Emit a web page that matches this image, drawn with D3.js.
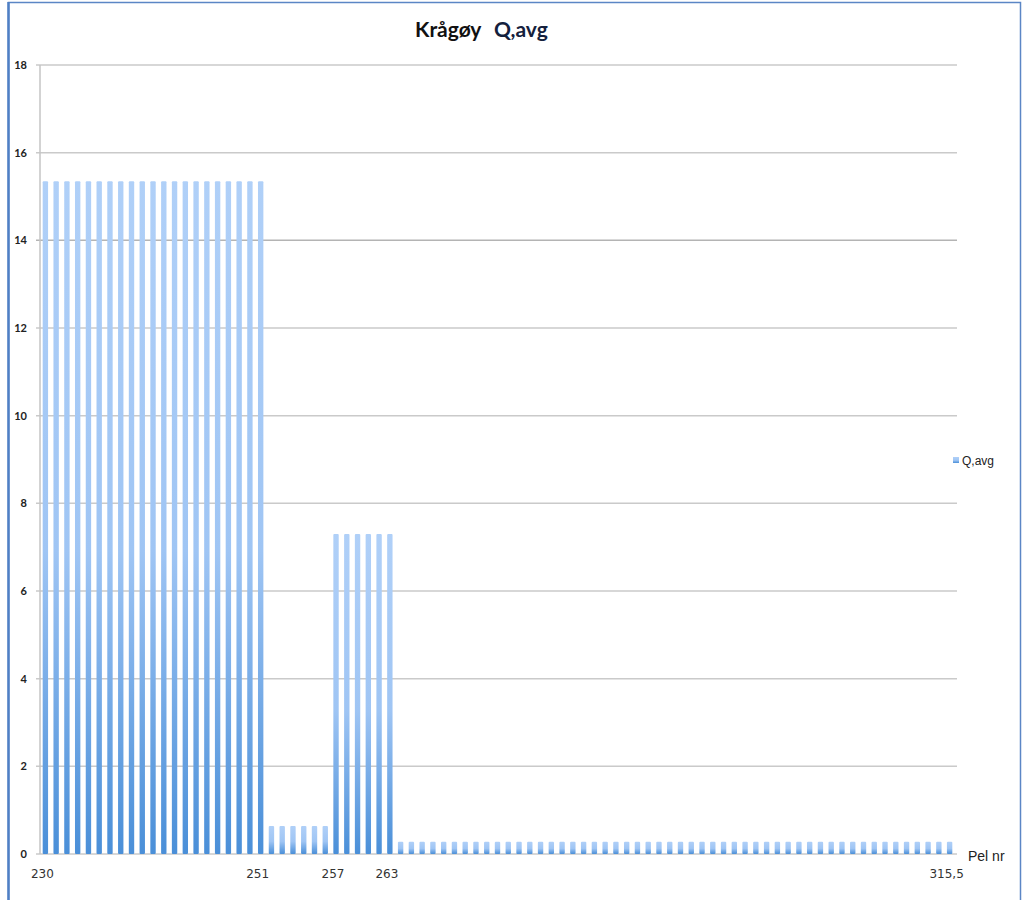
<!DOCTYPE html>
<html lang="no">

<head>
    <meta charset="UTF-8">
    <title>Krågøy Q,avg</title>
    <style>
        body {
            margin: 0;
            background: #fff;
            overflow: hidden;
        }
    </style>
</head>

<body>
    <div id="container"></div>

    <script type="text/javascript" src="https://d3js.org/d3.v7.min.js"></script>
    <script type="text/javascript">
        // Pel nr labels (only a few are shown on the axis, the rest are blank)
        var pelLabels = [
            "230", "", "", "", "", "", "", "", "", "", "", "", "", "", "", "", "", "", "", "", "251",
            "", "", "", "", "", "",
            "257", "", "", "", "", "263",
            "", "", "", "", "", "", "", "", "", "", "", "", "", "", "", "", "", "", "", "", "", "",
            "", "", "", "", "", "", "", "", "", "", "", "", "", "", "", "", "", "", "", "", "", "",
            "", "", "", "", "", "", "", "315,5"
        ];

        // Q,avg per pel
        var qAvg = [
            15.35, 15.35, 15.35, 15.35, 15.35, 15.35, 15.35, 15.35, 15.35, 15.35, 15.35,
            15.35, 15.35, 15.35, 15.35, 15.35, 15.35, 15.35, 15.35, 15.35, 15.35,
            0.64, 0.64, 0.64, 0.64, 0.64, 0.64,
            7.3, 7.3, 7.3, 7.3, 7.3, 7.3,
            0.28, 0.28, 0.28, 0.28, 0.28, 0.28, 0.28, 0.28, 0.28, 0.28, 0.28, 0.28, 0.28,
            0.28, 0.28, 0.28, 0.28, 0.28, 0.28, 0.28, 0.28, 0.28, 0.28, 0.28, 0.28, 0.28,
            0.28, 0.28, 0.28, 0.28, 0.28, 0.28, 0.28, 0.28, 0.28, 0.28, 0.28, 0.28, 0.28,
            0.28, 0.28, 0.28, 0.28, 0.28, 0.28, 0.28, 0.28, 0.28, 0.28, 0.28, 0.28, 0.28
        ];

        var yTicks = [0, 2, 4, 6, 8, 10, 12, 14, 16, 18];

        var width = 1023,
            height = 900;

        var svg = d3.select("#container")
            .append("svg")
            .attr("width", width)
            .attr("height", height);

        // frame around the whole chart
        svg.append("rect")
            .attr("x", 8.5)
            .attr("y", 2.5)
            .attr("width", 1012)
            .attr("height", 910)
            .attr("fill", "none")
            .attr("stroke", "#5b86c5")
            .attr("stroke-width", 1.5);
        svg.append("line")
            .attr("x1", 8.5).attr("x2", 8.5)
            .attr("y1", 2).attr("y2", 900)
            .attr("stroke", "#4f7fc4")
            .attr("stroke-width", 2.5);

        var defs = svg.append("defs");
        var grad = defs.append("linearGradient")
            .attr("id", "barGrad")
            .attr("x1", 0).attr("x2", 0)
            .attr("y1", 0).attr("y2", 1);
        grad.append("stop").attr("offset", "0%").attr("stop-color", "#b0d0f8");
        grad.append("stop").attr("offset", "55%").attr("stop-color", "#9fc5f4");
        grad.append("stop").attr("offset", "100%").attr("stop-color", "#4a8fd8");

        var x = d3.scaleBand()
            .domain(d3.range(qAvg.length))
            .range([40, 955])
            .paddingInner(0.5)
            .paddingOuter(0.25);

        var y = d3.scaleLinear()
            .domain([0, 18])
            .range([854, 65]);

        // gridlines
        svg.append("g")
            .selectAll("line")
            .data(yTicks)
            .enter()
            .append("line")
            .attr("x1", 36)
            .attr("x2", 957)
            .attr("y1", function (d) { return y(d); })
            .attr("y2", function (d) { return y(d); })
            .attr("stroke", function (d) { return d === 14 ? "#b4b4b4" : "#cacaca"; })
            .attr("stroke-width", 1.5);

        // y axis line
        svg.append("line")
            .attr("x1", 40).attr("x2", 40)
            .attr("y1", y(18)).attr("y2", y(0))
            .attr("stroke", "#c4c4c4")
            .attr("stroke-width", 1.5);

        // y tick labels
        svg.append("g")
            .selectAll("text")
            .data(yTicks)
            .enter()
            .append("text")
            .attr("x", 27)
            .attr("y", function (d) { return y(d) + 4; })
            .attr("text-anchor", "end")
            .style("font-family", "Lato, 'Open Sans', sans-serif")
            .style("font-size", "11px")
            .style("font-weight", "bold")
            .style("fill", "#222")
            .text(function (d) { return d; });

        // bars
        svg.append("g")
            .selectAll("rect")
            .data(qAvg)
            .enter()
            .append("rect")
            .attr("x", function (d, i) { return x(i); })
            .attr("y", function (d) { return y(d); })
            .attr("width", x.bandwidth())
            .attr("height", function (d) { return y(0) - y(d); })
            .attr("rx", 1)
            .attr("fill", "url(#barGrad)");

        // x labels
        svg.append("g")
            .selectAll("text")
            .data(pelLabels)
            .enter()
            .append("text")
            .attr("x", function (d, i) { return x(i) + x.bandwidth() / 2 - 3; })
            .attr("y", 878)
            .attr("text-anchor", "middle")
            .style("font-family", "'DejaVu Sans', sans-serif")
            .style("font-size", "12px")
            .style("fill", "#333")
            .text(function (d) { return d; });

        // x axis title
        svg.append("text")
            .attr("x", 968)
            .attr("y", 861)
            .style("font-family", "'Liberation Sans', Arial, sans-serif")
            .style("font-size", "14px")
            .style("fill", "#222")
            .text("Pel nr");

        // chart title
        var title = svg.append("text")
            .attr("x", 415)
            .attr("y", 37)
            .style("font-family", "Lato, sans-serif")
            .style("font-weight", "bold")
            .style("fill", "#111");
        title.append("tspan").style("font-size", "21px").text("Krågøy");
        title.append("tspan").attr("x", 494).style("font-size", "21px").style("fill", "#14213d").text("Q,avg");

        // legend
        var legend = svg.append("g").attr("transform", "translate(953, 457)");
        legend.append("rect")
            .attr("width", 6)
            .attr("height", 6)
            .attr("fill", "url(#barGrad)");
        legend.append("text")
            .attr("x", 9)
            .attr("y", 8)
            .style("font-family", "'Liberation Sans Narrow', 'Liberation Sans', sans-serif")
            .style("font-size", "12px")
            .style("fill", "#222")
            .text("Q,avg");
    </script>
</body>

</html>
